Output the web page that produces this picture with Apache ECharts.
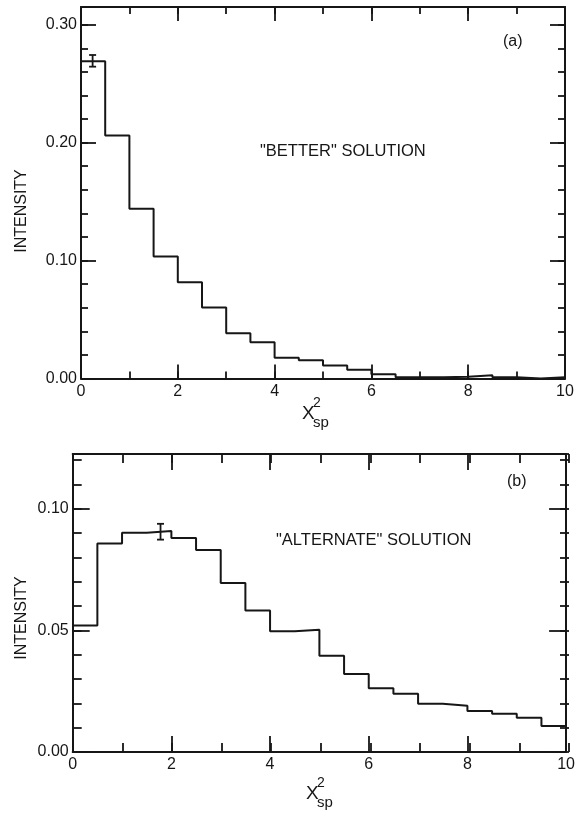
<!DOCTYPE html>
<html>
<head>
<meta charset="utf-8">
<title>Χ²sp intensity distributions</title>
<script src="https://cdn.jsdelivr.net/npm/echarts@6/dist/echarts.min.js"></script>
<style>
  html, body { margin: 0; padding: 0; background: #ffffff; }
  #chart { width: 578px; height: 813px; }
</style>
</head>
<body>
<div id="chart"></div>
<script>
// Bin edges of the Χ²sp histograms (bin width 0.5)
const binEdges = [0, 0.5, 1, 1.5, 2, 2.5, 3, 3.5, 4, 4.5, 5, 5.5, 6, 6.5, 7, 7.5, 8, 8.5, 9, 9.5, 10];

// (a) "BETTER" solution: intensity per bin
const betterIntensity = [0.269, 0.206, 0.144, 0.1035, 0.0817, 0.0602, 0.0384, 0.0308, 0.0177, 0.0155,
                         0.0110, 0.0075, 0.0035, 0.0010, 0.0010, 0.0015, 0.0028, 0.0010, 0.0000, 0.0010];

// (b) "ALTERNATE" solution: intensity per bin
const alternateIntensity = [0.052, 0.0857, 0.0901, 0.0908, 0.0880, 0.0830, 0.0695, 0.0582, 0.0496, 0.0503,
                            0.0396, 0.0321, 0.0262, 0.0239, 0.0198, 0.0190, 0.0169, 0.0157, 0.0141, 0.0107];

// Representative error bars: [x, low, high]
const betterError = [[0.24, 0.2644, 0.2743]];
const alternateError = [[1.78, 0.0873, 0.0938]];

// Axis ranges
const xRange = [0, 10];
const betterYMax = 0.315;
const alternateYMax = 0.1225;

const INK = '#161616';
const FONT = '"Liberation Sans", Arial, Helvetica, sans-serif';
const LINE_W = 2;

function stepData(values) {
  const pts = values.map((v, i) => [binEdges[i], v]);
  pts.push([binEdges[binEdges.length - 1], values[values.length - 1]]);
  return pts;
}

function isMultiple(v, step) {
  const r = v / step;
  return Math.abs(r - Math.round(r)) < 1e-6;
}

// One axis of a panel frame. "major" axes draw the frame line, the long
// ticks and (on bottom/left) the labels; the others only the short ticks.
function frameAxis(opts) {
  return {
    type: 'value', gridIndex: opts.grid, position: opts.pos,
    min: opts.min, max: opts.max, interval: opts.step,
    axisLine: { show: opts.major, onZero: false, lineStyle: { color: INK, width: LINE_W } },
    axisTick: { show: true, inside: true, length: opts.len, lineStyle: { color: INK, width: 1.8 } },
    axisLabel: {
      show: !!opts.label, color: INK, fontSize: 16, fontFamily: FONT, margin: opts.margin || 5,
      formatter: opts.fmt || (v => String(v))
    },
    splitLine: { show: false }
  };
}

// Builds the two grids (long ticks / short ticks) of a panel.
function panelAxes(majorGrid, minorGrid, yMax, yMajor, yMinor, lens) {
  const yFmt = v => isMultiple(v, yMajor) ? v.toFixed(2) : '';
  const x = [], y = [];
  ['bottom', 'top'].forEach(pos => {
    x.push(frameAxis({ grid: majorGrid, pos, min: xRange[0], max: xRange[1], step: 2,
                       len: lens.xMajor, major: true, label: pos === 'bottom' }));
  });
  ['bottom', 'top'].forEach(pos => {
    x.push(frameAxis({ grid: minorGrid, pos, min: xRange[0], max: xRange[1], step: 1,
                       len: lens.xMinor, major: false }));
  });
  ['left', 'right'].forEach(pos => {
    y.push(frameAxis({ grid: majorGrid, pos, min: 0, max: yMax, step: yMajor,
                       len: lens.yMajor, major: true, label: pos === 'left', fmt: yFmt, margin: 4 }));
  });
  ['left', 'right'].forEach(pos => {
    y.push(frameAxis({ grid: minorGrid, pos, min: 0, max: yMax, step: yMinor,
                       len: lens.yMinor, major: false }));
  });
  return { x, y };
}

function errorBarSeries(xAxisIndex, yAxisIndex, data) {
  return {
    type: 'custom', xAxisIndex, yAxisIndex, data, z: 5,
    renderItem: (params, api) => {
      const x = api.value(0);
      const lo = api.coord([x, api.value(1)]);
      const hi = api.coord([x, api.value(2)]);
      const half = 3.5;
      const style = { stroke: INK, lineWidth: 1.8 };
      return {
        type: 'group',
        children: [
          { type: 'line', shape: { x1: lo[0], y1: lo[1], x2: hi[0], y2: hi[1] }, style },
          { type: 'line', shape: { x1: lo[0] - half, y1: lo[1], x2: lo[0] + half, y2: lo[1] }, style },
          { type: 'line', shape: { x1: hi[0] - half, y1: hi[1], x2: hi[0] + half, y2: hi[1] }, style }
        ]
      };
    }
  };
}

function chiTitle(left, baseY) {
  return [
    { type: 'text', left: left, top: baseY - 14,
      style: { text: 'Χ', font: '19px ' + FONT, fill: INK } },
    { type: 'text', left: left + 11, top: baseY - 22,
      style: { text: '2', font: '14px ' + FONT, fill: INK } },
    { type: 'text', left: left + 11, top: baseY - 3,
      style: { text: 'sp', font: '15px ' + FONT, fill: INK } }
  ];
}

const panelA = panelAxes(0, 1, betterYMax, 0.1, 0.02, { xMajor: 14, xMinor: 7, yMajor: 15, yMinor: 7 });
const panelB = panelAxes(2, 3, alternateYMax, 0.05, 0.01, { xMajor: 16, xMinor: 9, yMajor: 17, yMinor: 9 });

const rectA = { left: 81, top: 7, width: 484, height: 371.5 };
const rectB = { left: 72.7, top: 454, width: 496.3, height: 298 };

const chart = echarts.init(document.getElementById('chart'), null, { renderer: 'canvas' });

const option = {
  backgroundColor: '#ffffff',
  animation: false,
  grid: [rectA, rectA, rectB, rectB],
  // x/y axes: 0-3 belong to panel (a), 4-7 to panel (b)
  xAxis: panelA.x.concat(panelB.x),
  yAxis: panelA.y.concat(panelB.y),
  series: [
    {
      type: 'line', step: 'end', xAxisIndex: 0, yAxisIndex: 0,
      data: stepData(betterIntensity), showSymbol: false, symbol: 'none',
      lineStyle: { color: INK, width: LINE_W }, z: 4
    },
    errorBarSeries(0, 0, betterError),
    {
      type: 'line', step: 'end', xAxisIndex: 4, yAxisIndex: 4,
      data: stepData(alternateIntensity), showSymbol: false, symbol: 'none',
      lineStyle: { color: INK, width: LINE_W }, z: 4
    },
    errorBarSeries(4, 4, alternateError)
  ],
  graphic: [
    { type: 'text', left: 260, top: 143,
      style: { text: '"BETTER" SOLUTION', font: '16.5px ' + FONT, fill: INK } },
    { type: 'text', left: 503, top: 34,
      style: { text: '(a)', font: '16px ' + FONT, fill: INK } },
    { type: 'text', left: 276, top: 532,
      style: { text: '"ALTERNATE" SOLUTION', font: '16.5px ' + FONT, fill: INK } },
    { type: 'text', left: 507, top: 474,
      style: { text: '(b)', font: '16px ' + FONT, fill: INK } },
    { type: 'text', x: 22, y: 211, rotation: Math.PI / 2,
      style: { text: 'INTENSITY', font: '16px ' + FONT, fill: INK, align: 'center', verticalAlign: 'middle' } },
    { type: 'text', x: 22, y: 618, rotation: Math.PI / 2,
      style: { text: 'INTENSITY', font: '16px ' + FONT, fill: INK, align: 'center', verticalAlign: 'middle' } }
  ].concat(chiTitle(302, 418), chiTitle(306, 798))
};

chart.setOption(option);
</script>
</body>
</html>
